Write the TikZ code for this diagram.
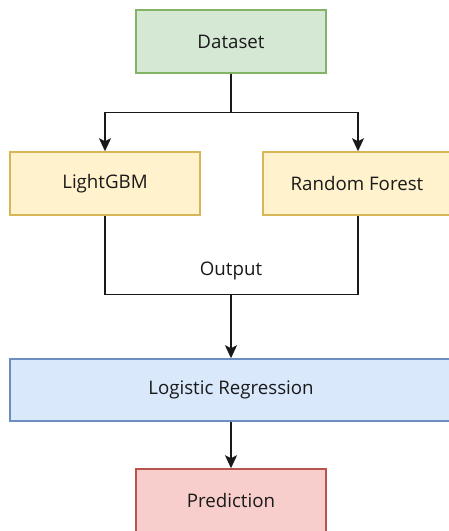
\documentclass[tikz,border=0pt]{standalone}
\usepackage{fontspec}
\setmainfont{Open Sans}
\usetikzlibrary{arrows.meta}
\definecolor{gfill}{HTML}{D5E8D4}\definecolor{gline}{HTML}{82B366}
\definecolor{yfill}{HTML}{FFF2CC}\definecolor{yline}{HTML}{D6B656}
\definecolor{bfill}{HTML}{DAE8FC}\definecolor{bline}{HTML}{6C8EBF}
\definecolor{rfill}{HTML}{F8CECC}\definecolor{rline}{HTML}{B85450}
\definecolor{txt}{HTML}{1A1A1A}
\begin{document}
\begin{tikzpicture}[x=1pt,y=-1pt,
  box/.style={draw,line width=1.5pt,inner sep=0pt,text=txt,font=\fontsize{18.7}{22}\selectfont},
  lbl/.style={text=txt,font=\fontsize{18.7}{22}\selectfont,inner sep=0pt},
  conn/.style={line width=1.6pt,draw=black!90},
  arr/.style={conn,-{Stealth[length=13pt,width=12pt,inset=3pt]}}]
\useasboundingbox (0,0) rectangle (448,531);
\coordinate (rfx) at (358,0);
\node[box,fill=gfill,draw=gline,minimum width=190pt,minimum height=63pt] (ds) at (231,41.5) {Dataset};
\node[box,fill=yfill,draw=yline,minimum width=190pt,minimum height=63pt] (lg) at (105,183.5) {LightGBM};
\node[box,fill=yfill,draw=yline,minimum width=240pt,minimum height=63pt] (rf) at (383,183.5) {};
\node[lbl] at (357,183.5) {Random Forest};
\node[box,fill=bfill,draw=bline,minimum width=480pt,minimum height=62pt] (lr) at (250,390) {};
\node[lbl] at (231,390) {Logistic Regression};
\node[box,fill=rfill,draw=rline,minimum width=190pt,minimum height=70pt] (pr) at (231,504) {};
\node[lbl] at (231,500.5) {Prediction};
\coordinate (j1) at (231,112.5);
\coordinate (j2) at (231,294.5);
\node[lbl] (out) at (231,270.5) {Output};
\draw[conn] (ds.south) -- (j1);
\draw[arr] (j1) -| (lg.north);
\draw[arr] (j1) -| (rfx |- rf.north);
\draw[conn] (lg.south) |- (j2) -| (rfx |- rf.south);
\draw[arr] (j2) -- (lr.north -| j2);
\draw[arr] (lr.south -| pr.north) -- (pr.north);
\end{tikzpicture}
\end{document}
